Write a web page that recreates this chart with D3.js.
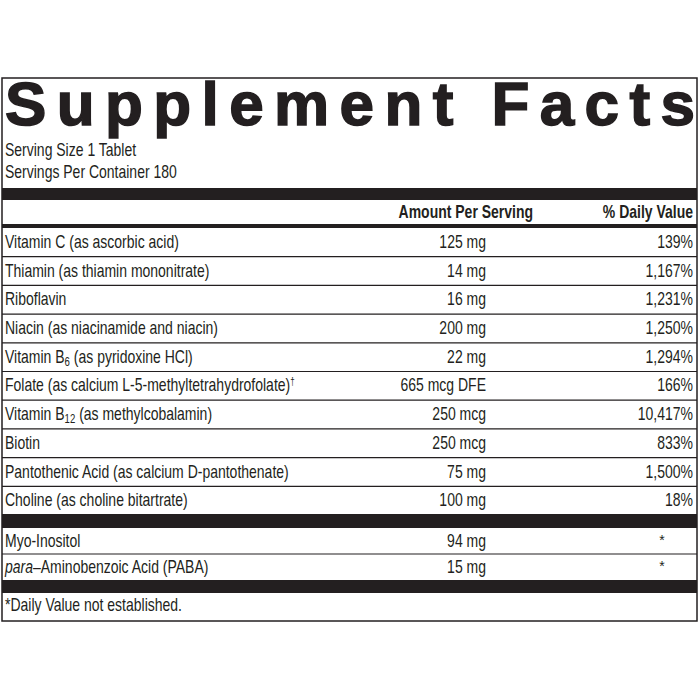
<!DOCTYPE html>
<html><head><meta charset="utf-8">
<script src="https://cdn.jsdelivr.net/npm/d3@7"></script>
<style>
body{margin:0;background:#fff}
text{font-family:"Liberation Sans",Arial,sans-serif;fill:#231f20}
</style></head><body>
<div id="chart"></div>
<script>
// nutrients (main block)
const names = ["Vitamin C (as ascorbic acid)", "Thiamin (as thiamin mononitrate)", "Riboflavin",
  "Niacin (as niacinamide and niacin)", "Vitamin B|6| (as pyridoxine HCl)",
  "Folate (as calcium L-5-methyltetrahydrofolate)^†^", "Vitamin B|12| (as methylcobalamin)", "Biotin",
  "Pantothenic Acid (as calcium D-pantothenate)", "Choline (as choline bitartrate)"];
const amounts = ["125 mg", "14 mg", "16 mg", "200 mg", "22 mg", "665 mcg DFE", "250 mcg", "250 mcg", "75 mg", "100 mg"];
const dailyValues = ["139%", "1,167%", "1,231%", "1,250%", "1,294%", "166%", "10,417%", "833%", "1,500%", "18%"];
// other ingredients
const otherNames = ["Myo-Inositol", "~para~–Aminobenzoic Acid (PABA)"];
const otherAmounts = ["94 mg", "15 mg"];
const otherDV = ["*", "*"];

const width = 700, height = 700;
const left = 5, amtX = 486, dvX = 693;
const K = 0.8; // horizontal condensing, mimics a narrow face
const svg = d3.select("#chart").append("svg").attr("width", width).attr("height", height);

svg.append("rect").attr("x", 2).attr("y", 78).attr("width", 695).attr("height", 543)
  .attr("fill", "none").attr("stroke", "#231f20").attr("stroke-width", 1.5);

svg.append("text").attr("x", 5).attr("y", 125).attr("textLength", 690).attr("lengthAdjust", "spacing")
  .style("font-weight", "900").style("font-size", "62px").attr("stroke", "#231f20").attr("stroke-width", 1.5)
  .text("Supplement Facts");

// condensed label
function label(g, x, yy, anchor, bold) {
  return g.append("text").attr("transform", `scale(${K},1)`).attr("x", x / K).attr("y", yy)
    .attr("text-anchor", anchor || "start").style("font-size", "17.5px").style("font-weight", bold ? "bold" : null);
}

label(svg, left, 156).text("Serving Size 1 Tablet");
label(svg, left, 178).text("Servings Per Container 180");

const bar = (y, h) => svg.append("rect").attr("x", 2).attr("y", y).attr("width", 695).attr("height", h).attr("fill", "#231f20");
bar(188, 12);
label(svg, 533, 218, "end", true).text("Amount Per Serving");
label(svg, dvX, 218, "end", true).text("% Daily Value");
bar(224, 4);

// draw a name with |sub|, ^sup^ and ~italic~ markup
function richName(sel, s) {
  const parts = s.split(/(\|[^|]*\||\^[^^]*\^|~[^~]*~)/).filter(p => p);
  let shift = 0;
  parts.forEach(p => {
    const t = sel.append("tspan");
    let dy = -shift;
    shift = 0;
    if (p[0] === "|") { t.text(p.slice(1, -1)).style("font-size", "12px"); shift = 3; }
    else if (p[0] === "^") { t.text(p.slice(1, -1)).style("font-size", "10px"); shift = -6; }
    else if (p[0] === "~") t.text(p.slice(1, -1)).style("font-style", "italic");
    else t.text(p);
    dy += shift;
    if (dy) t.attr("dy", dy);
  });
}

const y = d3.scaleBand().domain(d3.range(names.length)).range([228, 515]);
const rows = svg.append("g").selectAll("g").data(names).join("g")
  .attr("transform", (d, i) => `translate(0,${y(i)})`);
rows.each(function (d, i) {
  const g = d3.select(this);
  label(g, left, 20).each(function () { richName(d3.select(this), d); });
  label(g, amtX, 20, "end").text(amounts[i]);
  label(g, dvX, 20, "end").text(dailyValues[i]);
});
rows.filter((d, i) => i < names.length - 1).append("line").attr("x1", 2).attr("x2", 697)
  .attr("y1", y.bandwidth()).attr("y2", y.bandwidth()).attr("stroke", "#231f20").attr("stroke-width", 1.2);

bar(514, 14);
const y2 = d3.scaleBand().domain(d3.range(otherNames.length)).range([528, 580]);
const rows2 = svg.append("g").selectAll("g").data(otherNames).join("g")
  .attr("transform", (d, i) => `translate(0,${y2(i)})`);
rows2.each(function (d, i) {
  const g = d3.select(this);
  label(g, left, 19).each(function () { richName(d3.select(this), d); });
  label(g, amtX, 19, "end").text(otherAmounts[i]);
  g.append("text").attr("x", 662).attr("y", 17).attr("text-anchor", "middle").style("font-size", "14px").text(otherDV[i]);
});
rows2.filter((d, i) => i < otherNames.length - 1).append("line").attr("x1", 2).attr("x2", 697)
  .attr("y1", y2.bandwidth()).attr("y2", y2.bandwidth()).attr("stroke", "#231f20").attr("stroke-width", 1.2);

bar(580, 13);
label(svg, left, 611).text("*Daily Value not established.");
</script></body></html>
